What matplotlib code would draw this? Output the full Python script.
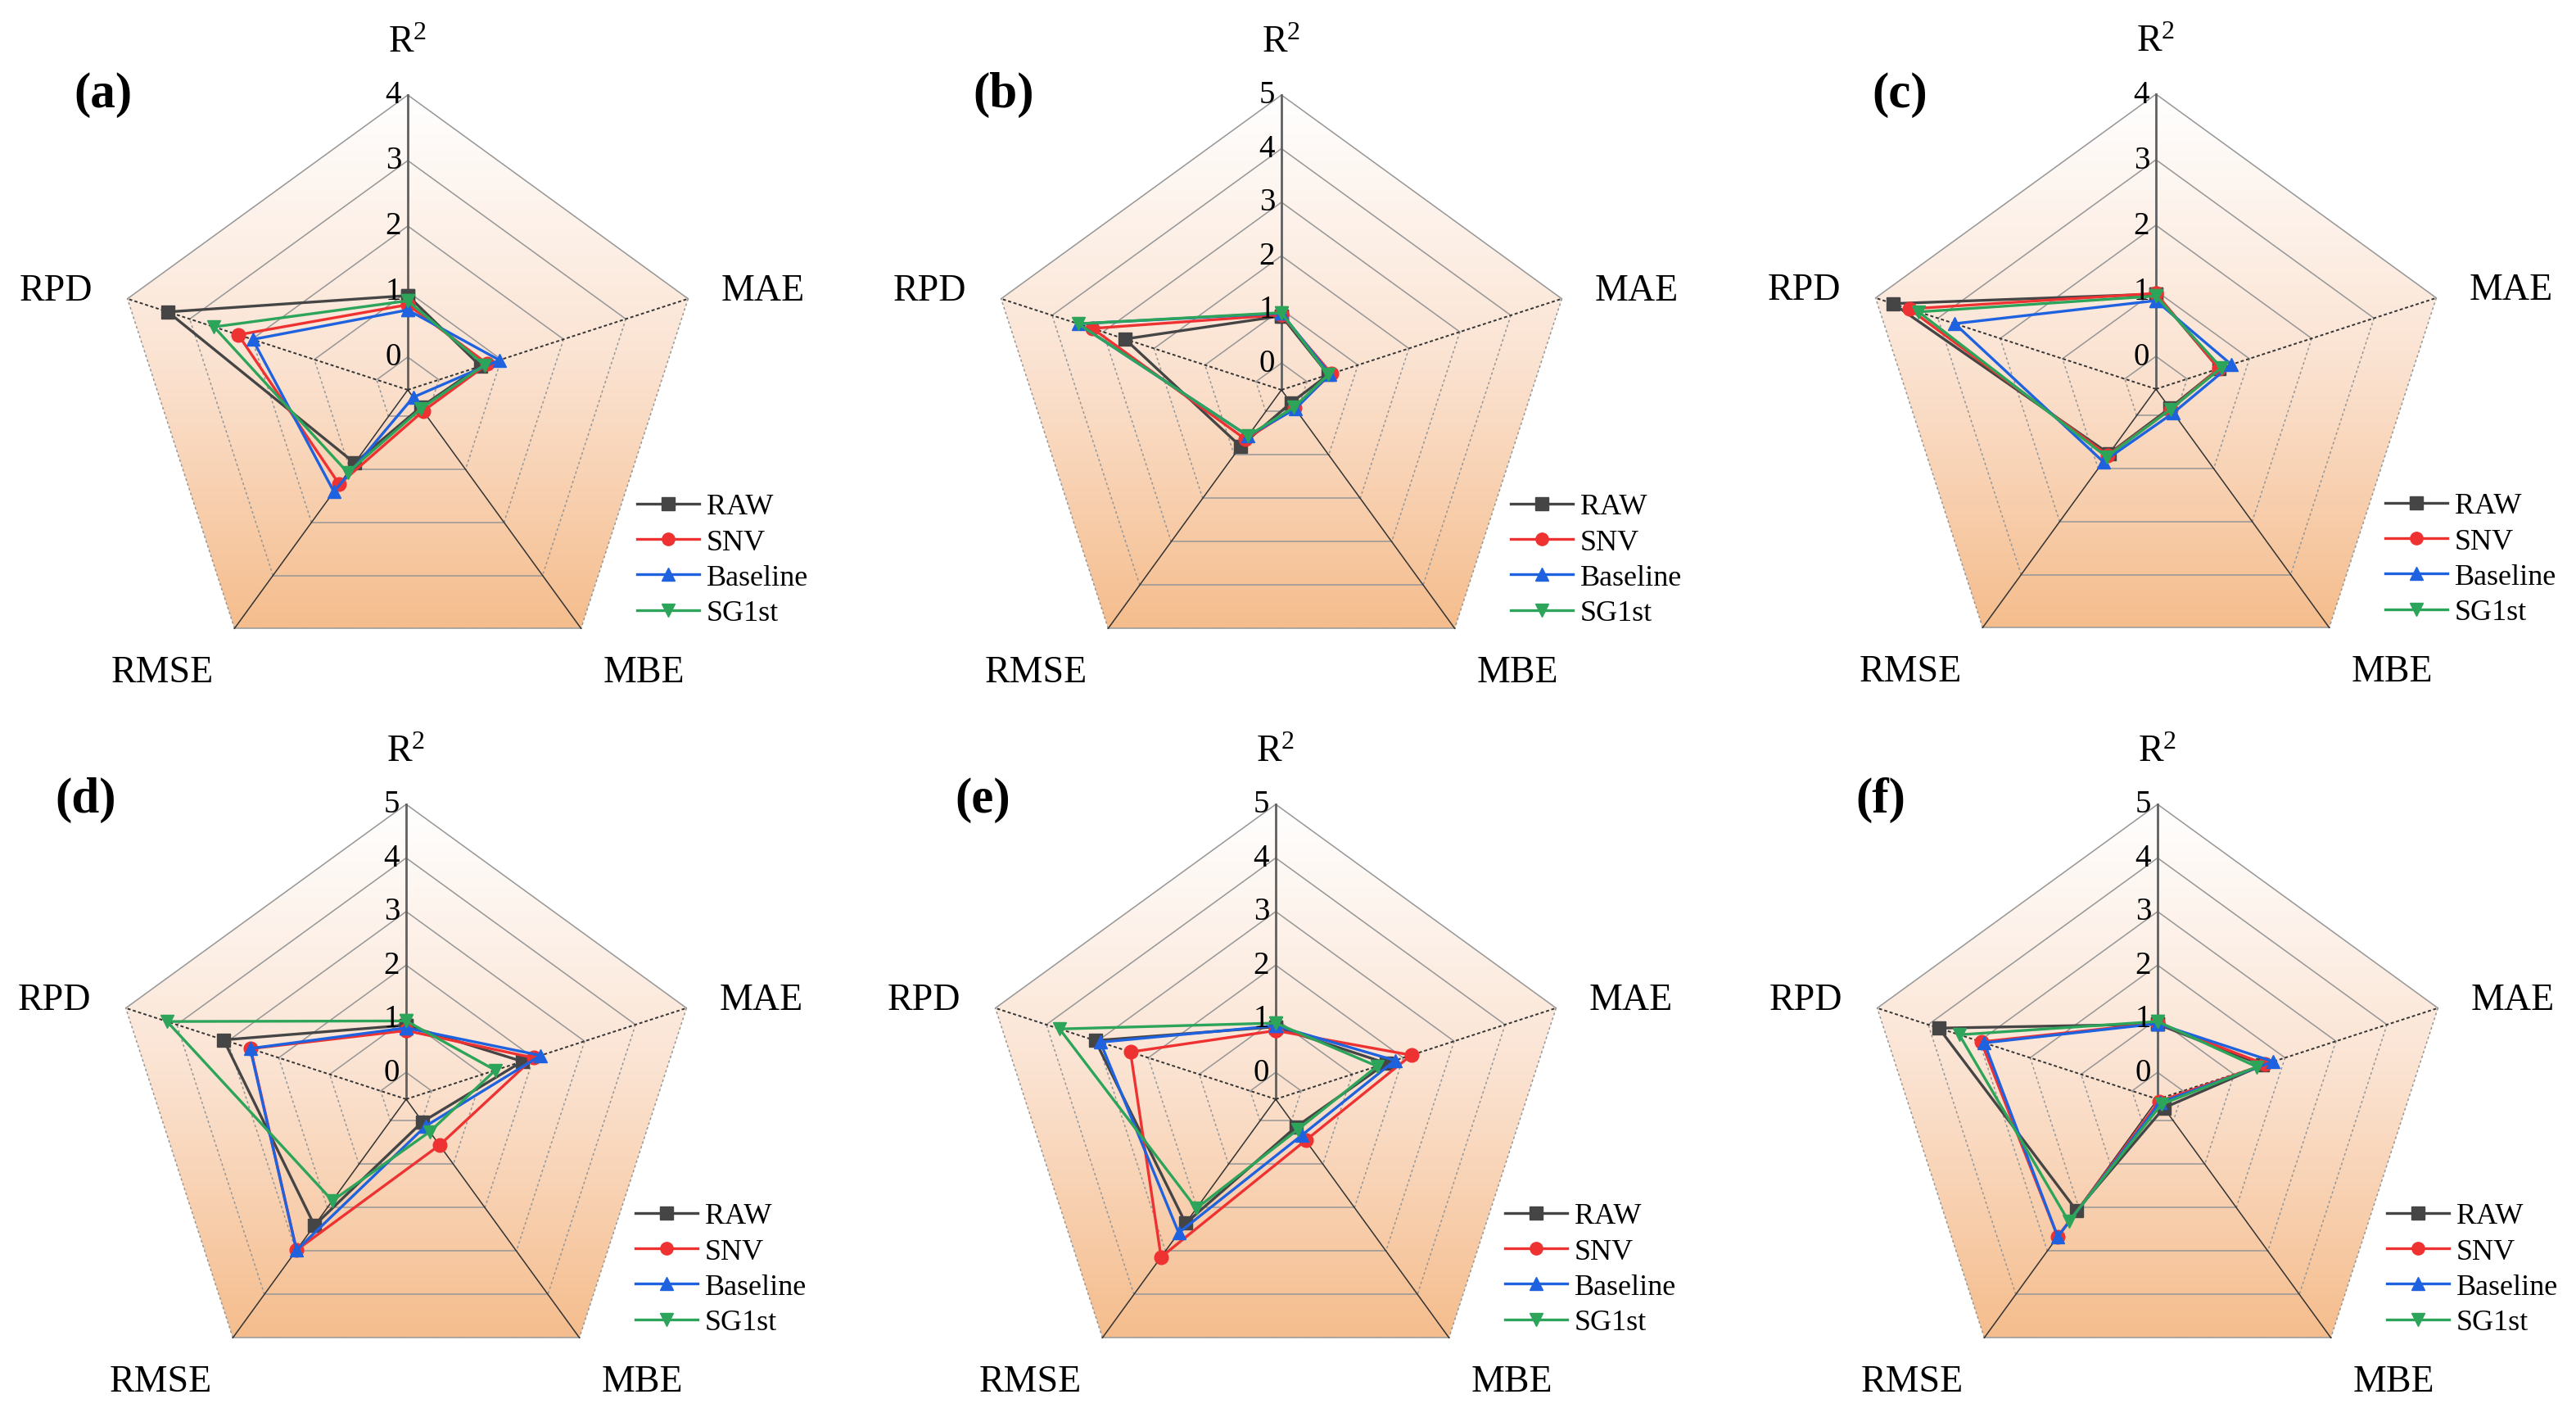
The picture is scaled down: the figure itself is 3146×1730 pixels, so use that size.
import numpy as np
import matplotlib.pyplot as plt
from matplotlib.colors import LinearSegmentedColormap
from matplotlib.patches import Polygon
from matplotlib.lines import Line2D

plt.rcParams['font.family'] = ['Liberation Serif', 'DejaVu Serif']
plt.rcParams['mathtext.fontset'] = 'custom'
plt.rcParams['mathtext.rm'] = 'Liberation Serif'
plt.rcParams['mathtext.it'] = 'Liberation Serif:italic'

# axis order (clockwise from top): R2, MAE, MBE, RMSE, RPD
axis_names = [r'R$\mathregular{^2}$', 'MAE', 'MBE', 'RMSE', 'RPD']
panel_tags = ['(a)', '(b)', '(c)', '(d)', '(e)', '(f)']
panel_max = [4, 5, 4, 5, 5, 5]
series_names = ['RAW', 'SNV', 'Baseline', 'SG1st']

# one row per panel (a..f): R2, MAE, MBE, RMSE, RPD
raw = [[0.94, 0.67, -0.17, 0.88, 3.35],
       [0.88, 0.42, -0.20, 0.80, 2.57],
       [0.95, 0.51, -0.14, 0.72, 3.72],
       [0.88, 1.78, 0.02, 2.41, 3.08],
       [0.85, 1.67, 0.14, 2.36, 3.04],
       [0.90, 1.56, -0.30, 2.07, 3.79]]
snv = [[0.80, 0.78, -0.10, 1.28, 2.22],
       [0.90, 0.48, -0.08, 0.64, 3.21],
       [0.96, 0.51, -0.12, 0.75, 3.46],
       [0.78, 2.00, 0.56, 2.98, 2.55],
       [0.78, 2.16, 0.45, 3.14, 2.35],
       [0.92, 1.61, -0.45, 2.67, 2.96]]
baseline = [[0.72, 0.97, -0.36, 1.42, 1.99],
            [0.93, 0.45, -0.06, 0.56, 3.49],
            [0.85, 0.71, -0.05, 0.87, 2.73],
            [0.83, 2.14, 0.12, 2.98, 2.56],
            [0.87, 1.84, 0.33, 2.58, 2.94],
            [0.91, 1.77, -0.42, 2.67, 2.90]]
sg1st = [[0.86, 0.73, -0.15, 1.06, 2.61],
         [0.94, 0.42, -0.10, 0.56, 3.49],
         [0.92, 0.55, -0.12, 0.78, 3.31],
         [0.96, 1.25, 0.25, 1.84, 4.19],
         [0.92, 1.49, 0.20, 2.02, 3.74],
         [0.95, 1.45, -0.38, 2.32, 3.39]]

colors = ['#454545', '#EE3232', '#1F62E0', '#2CA45A']
markers = ['s', 'o', '^', 'v']
rmin = -0.5

# layout in pixels
W, H = 3146, 1731
centers = [(498, 477), (1565, 477), (2633, 476), (496, 1343), (1558, 1343), (2635, 1343)]
tag_pos = [(126, 116), (1226, 116), (2320, 116), (105, 977), (1200, 977), (2297, 977)]
R_px = 360
angles = np.deg2rad([90, 18, -54, -126, 162])
label_off = [(0, 424), (434, 121), (288, -345), (-300, -345), (-430, 121)]

cmap = LinearSegmentedColormap.from_list('bg', ['#FFFFFF', '#FBE3D2', '#F5BD8D'])

fig = plt.figure(figsize=(W / 100, H / 100), dpi=100)

for i in range(6):
    cx, cy = centers[i]
    top = panel_max[i]
    R = top - rmin
    unit = R_px / R
    ax = fig.add_axes([(cx - 540) / W, (H - (cy + 420)) / H, 1080 / W, 880 / H])
    ax.set_xlim(-540 / unit, 540 / unit)
    ax.set_ylim(-420 / unit, 460 / unit)
    ax.axis('off')

    ca, sa = np.cos(angles), np.sin(angles)
    outer = np.c_[R * ca, R * sa]

    # gradient background clipped to the outer pentagon
    grad = np.linspace(1, 0, 256).reshape(-1, 1)
    im = ax.imshow(grad, cmap=cmap, origin='lower', aspect='auto',
                   extent=[-R, R, R * np.sin(angles[2]), R], zorder=0)
    clip = Polygon(outer, closed=True, transform=ax.transData, facecolor='none', edgecolor='none')
    ax.add_patch(clip)
    im.set_clip_path(clip)

    # rings: upper and bottom edges solid, side edges dotted
    for k in range(0, top + 1):
        rr = k - rmin
        for j in range(5):
            j2 = (j + 1) % 5
            ls = (0, (2, 2)) if j in (1, 3) else '-'
            ax.plot([rr * ca[j], rr * ca[j2]], [rr * sa[j], rr * sa[j2]],
                    color='#969696', lw=1.1, ls=ls, zorder=1)

    # spokes
    ax.plot([0, R * ca[0]], [0, R * sa[0]], color='#606060', lw=2.0, zorder=2)
    for j in (1, 4):
        ax.plot([0, R * ca[j]], [0, R * sa[j]], color='#333333', lw=1.4, ls=(0, (2, 1.5)), zorder=2)
    for j in (2, 3):
        ax.plot([0, R * ca[j]], [0, R * sa[j]], color='#333333', lw=1.1, zorder=2)

    # tick numbers along R2 axis
    for k in range(0, top + 1):
        ax.text(-8 / unit, k - rmin, str(k), ha='right', va='center', fontsize=28, zorder=5)

    # axis names
    for j in range(5):
        dx, dy = label_off[j]
        ax.text(dx / unit, dy / unit, axis_names[j], ha='center', va='center', fontsize=33)

    # series
    handles = []
    for vals_all, name, c, m in zip([raw, snv, baseline, sg1st], series_names, colors, markers):
        r = np.array(vals_all[i]) - rmin
        xs = np.append(r * ca, r[0] * ca[0])
        ys = np.append(r * sa, r[0] * sa[0])
        ax.plot(xs, ys, color=c, lw=2.4, marker=m, ms=12, zorder=4)
        handles.append(Line2D([], [], color=c, lw=2.4, marker=m, ms=11))

    ax.legend(handles, series_names, loc='upper left', frameon=False, fontsize=26,
              bbox_to_anchor=(280 / unit, -126 / unit), bbox_transform=ax.transData,
              borderpad=0, borderaxespad=0, handlelength=2.1, handletextpad=0.25,
              labelspacing=0.28)

    fig.text(tag_pos[i][0] / W, 1 - tag_pos[i][1] / H, panel_tags[i], ha='center', va='center',
             fontsize=44, fontweight='bold')

fig.savefig('out.png', dpi=100)
